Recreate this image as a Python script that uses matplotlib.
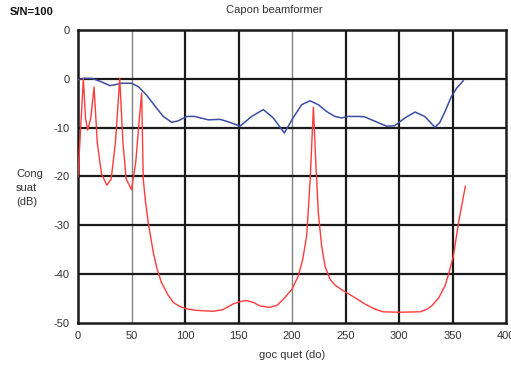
import matplotlib
matplotlib.use("Agg")
import matplotlib.pyplot as plt

# Blue curve (beam pattern)
blue_x = [0, 5, 12.8, 20.6, 29.9, 34.6, 40.8, 50, 56.4, 64, 72, 79.7, 87.5, 93.7, 101.6, 109, 121.8, 132.7, 140.5, 151.4, 162.3, 173.2, 182.5, 192.8, 201, 209, 216.8, 224.6, 232.4, 240, 246.4, 252.6, 263.5, 268, 277.6, 288.5, 296, 305.6, 315, 324, 333.6, 338, 343, 349, 353.9, 360]
blue_y = [-0.2, 0.1, 0.1, -0.5, -1.4, -1.2, -0.9, -0.9, -1.6, -3.3, -5.6, -7.7, -8.9, -8.6, -7.7, -7.7, -8.4, -8.3, -8.8, -9.7, -7.7, -6.3, -8.0, -11.1, -8.0, -5.3, -4.5, -5.3, -6.7, -7.7, -8.0, -7.7, -7.7, -7.8, -8.7, -9.7, -9.6, -8.0, -6.8, -7.7, -9.9, -9.0, -6.7, -3.6, -1.9, -0.4]

# Red curve (Capon spectrum)
red_x = [0, 2, 5, 7, 9, 12, 15, 18, 22, 27, 31, 35, 39, 42, 45, 50, 54, 57, 59.5, 61, 63, 65.7, 70.4, 74, 78, 84, 89, 95, 101.5, 110, 126, 135, 145, 152, 157.6, 164, 170, 179, 186, 192, 200, 206, 210, 213.7, 217, 220, 222, 224.6, 227.7, 231, 235.5, 240, 248, 258, 268, 278, 285, 300, 320, 326, 330.5, 337, 343, 347, 350.8, 356, 362]
red_y = [-20.0, -12.0, 0.0, -8.0, -10.5, -8.0, -1.7, -13.0, -19.5, -21.8, -20.5, -13.0, 0.1, -13.0, -20.5, -22.7, -17.0, -9.0, -2.9, -20.6, -25.0, -29.5, -35.6, -39.0, -41.7, -44.2, -45.8, -46.6, -47.1, -47.4, -47.6, -47.3, -46.1, -45.6, -45.4, -45.8, -46.5, -46.8, -46.4, -45.1, -43.1, -40.3, -37.0, -32.2, -20.6, -5.8, -16.0, -27.4, -34.2, -38.5, -41.0, -42.2, -43.4, -44.7, -46.1, -47.2, -47.7, -47.8, -47.7, -47.2, -46.5, -44.9, -42.4, -39.5, -36.3, -29.0, -22.0]

x_ticks = [0, 50, 100, 150, 200, 250, 300, 350, 400]
y_ticks = [10, 0, -10, -20, -30, -40, -50]
y_tick_labels = ["0", "0", "-10", "-20", "-30", "-40", "-50"]

plt.rcParams['font.family'] = ['Liberation Sans', 'DejaVu Sans']

fig = plt.figure(figsize=(5.11, 3.65), dpi=100)
ax = fig.add_axes([78/511, 1-323/365, (506-78)/511, (323-30)/365])
ax.set_xlim(0, 400)
ax.set_ylim(-50, 10)

# grid
for xv in x_ticks[1:-1]:
    if xv in (50, 200):
        ax.axvline(xv, color='#808080', lw=1.0, zorder=1)
    else:
        ax.axvline(xv, color='#1a1a1a', lw=1.6, zorder=1)
for yv in y_ticks[1:-1]:
    ax.axhline(yv, color='#1a1a1a', lw=1.6, zorder=1)

ax.plot(blue_x, blue_y, color='#3b4ea3', lw=1.1, zorder=3, solid_joinstyle='round')
ax.plot(red_x, red_y, color='#ff3b3b', lw=1.0, zorder=3)

for s in ax.spines.values():
    s.set_color('#1a1a1a')
    s.set_linewidth(1.8)

ax.set_xticks(x_ticks)
ax.set_xticklabels([str(v) for v in x_ticks])
ax.set_yticks(y_ticks)
ax.set_yticklabels(y_tick_labels)
ax.tick_params(length=0, labelsize=8, colors='#333333', pad=6)

fig.text(274/511, 1-10/365, "Capon beamformer", ha='center', va='center', fontsize=8, color='#333333')
fig.text(10/511, 1-12/365, "S/N=100", ha='left', va='center', fontsize=8, fontweight='bold', color='#111111')
fig.text(16/511, 1-188/365, "Cong\nsuat\n(dB)", ha='left', va='center', fontsize=8, color='#333333', linespacing=1.45)
fig.text(292/511, 1-355/365, "goc quet (do)", ha='center', va='center', fontsize=8, color='#333333')

fig.savefig("out.png", dpi=100)
